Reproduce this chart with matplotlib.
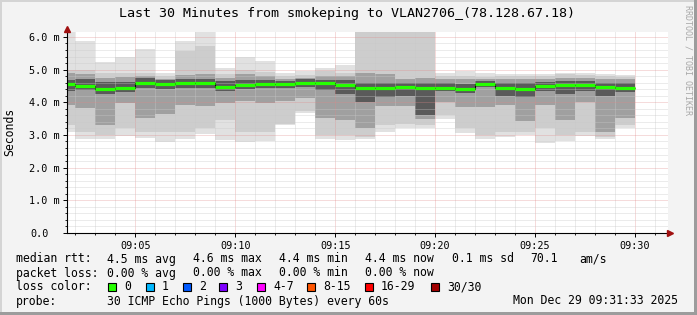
import numpy as np
import matplotlib
matplotlib.use('Agg')
import matplotlib.pyplot as plt
import matplotlib.transforms as mtrans
from matplotlib.patches import Rectangle
from matplotlib.ticker import MultipleLocator

# minute (after 09:00) at which each 60s step ends
minutes = [2, 3, 4, 5, 6, 7, 8, 9, 10, 11, 12, 13, 14, 15, 16, 17, 18, 19, 20,
           21, 22, 23, 24, 25, 26, 27, 28, 29, 30]

# rtt in ms (outer -> inner)
rtt_max = [6.3, 5.88, 5.23, 5.37, 5.62, 4.91, 5.88, 6.3, 5.04, 5.40, 5.26, 4.91, 4.95, 5.04, 5.15,
           6.3, 6.3, 6.3, 6.3, 4.91, 4.96, 4.90, 4.87, 4.85, 4.85, 4.90, 4.90, 4.87, 4.83]
q90 = [5.0, 5.0, 4.9, 4.9, 4.9, 4.8, 5.57, 5.72, 4.85, 5.0, 4.92, 4.8, 4.82, 4.95, 4.9,
       6.3, 6.3, 6.3, 6.3, 4.8, 4.8, 4.78, 4.8, 4.8, 4.8, 4.85, 4.82, 4.8, 4.78]
q75 = [4.9, 4.85, 4.75, 4.78, 4.8, 4.72, 4.82, 4.85, 4.75, 4.85, 4.8, 4.72, 4.75, 4.8, 4.8,
       4.9, 4.85, 4.7, 4.75, 4.72, 4.7, 4.7, 4.72, 4.72, 4.72, 4.75, 4.75, 4.72, 4.7]
q60 = [4.67, 4.72, 4.62, 4.62, 4.74, 4.68, 4.7, 4.72, 4.66, 4.68, 4.68, 4.66, 4.7, 4.68, 4.68,
       4.6, 4.6, 4.6, 4.58, 4.58, 4.56, 4.66, 4.6, 4.6, 4.62, 4.66, 4.64, 4.58, 4.6]
median = [4.55, 4.50, 4.41, 4.44, 4.60, 4.57, 4.58, 4.58, 4.48, 4.52, 4.57, 4.57, 4.60, 4.58, 4.54,
          4.43, 4.44, 4.47, 4.43, 4.44, 4.40, 4.57, 4.44, 4.40, 4.50, 4.54, 4.52, 4.46, 4.44]
q40 = [4.34, 4.38, 4.25, 4.30, 4.45, 4.4, 4.44, 4.44, 4.36, 4.4, 4.44, 4.44, 4.46, 4.38, 4.25,
       4.0, 4.15, 4.2, 3.62, 4.33, 4.28, 4.47, 4.2, 4.15, 4.35, 4.25, 4.35, 4.2, 4.3]
q25 = [3.93, 3.83, 3.3, 3.97, 3.52, 3.65, 3.93, 3.9, 3.98, 4.03, 3.98, 4.03, 4.13, 3.52, 3.47,
       3.2, 3.9, 3.9, 3.5, 4.0, 3.85, 3.85, 3.93, 3.43, 3.93, 3.45, 4.0, 3.1, 3.52]
q10 = [3.3, 3.1, 3.0, 3.2, 3.1, 3.1, 3.1, 3.2, 3.47, 3.1, 3.1, 3.32, 3.73, 3.0, 3.0,
       2.95, 3.3, 3.35, 3.3, 3.6, 3.2, 3.0, 3.1, 3.1, 3.2, 3.0, 3.1, 2.95, 3.3]
rtt_min = [3.10, 2.87, 2.87, 2.98, 2.92, 2.78, 2.88, 3.02, 2.85, 2.78, 2.80, 3.30, 3.68, 2.88, 2.85,
           2.87, 3.10, 3.20, 3.20, 3.50, 3.05, 2.87, 2.95, 3.0, 2.75, 2.80, 2.97, 2.87, 3.20]

time_labels = ['09:05', '09:10', '09:15', '09:20', '09:25', '09:30']
y_labels = ['0.0', '1.0 m', '2.0 m', '3.0 m', '4.0 m', '5.0 m', '6.0 m']

loss_labels = ['0', '1', '2', '3', '4-7', '8-15', '16-29', '30/30']
loss_colors = ['#26ff00', '#00b8ff', '#0059ff', '#7e00ff', '#ff00ff', '#ff5500', '#ff0000', '#a10000']

W, H = 697, 315
MONO = 'DejaVu Sans Mono'
plt.rcParams['font.family'] = MONO

fig = plt.figure(figsize=(W / 100, H / 100), dpi=100, facecolor='#f3f3f3')
ax = fig.add_axes([67 / W, 1 - 233 / H, (668 - 67) / W, (233 - 32) / H])
ax.set_facecolor('white')

ends = np.array(minutes, dtype=float)
starts = ends - 1

# smoke, lightest outside -> darkest inside
bands = [(rtt_min, rtt_max, '#e1e1e1'),
         (q10, q90, '#cdcdcd'),
         (q25, q75, '#a0a0a0'),
         (q40, q60, '#5a5a5a')]
for lo, hi, col in bands:
    lo = np.array(lo)
    hi = np.array(hi)
    ax.bar(starts, hi - lo, bottom=lo, width=1, align='edge', color=col, lw=0, zorder=1)

edges = np.append(starts, ends[-1])
ax.stairs(median, edges, baseline=None, color='black', lw=0.8, zorder=3)
ax.hlines(median, starts, ends, colors=loss_colors[0], lw=2.3, zorder=4)

ax.set_xlim(1.58, 31.65)
ax.set_ylim(0, 6.15)

ax.xaxis.set_major_locator(MultipleLocator(5))
ax.xaxis.set_minor_locator(MultipleLocator(1))
ax.set_xticks([5, 10, 15, 20, 25, 30])
ax.set_xticklabels(time_labels)
ax.set_yticks(range(7))
ax.set_yticklabels(y_labels)
ax.yaxis.set_minor_locator(MultipleLocator(0.2))

ax.set_axisbelow(False)
ax.grid(which='minor', color='#c8c8c8', alpha=0.7, lw=0.72, ls=(0, (1, 1)))
ax.grid(which='major', color='#e08888', alpha=0.6, lw=0.72, ls=(0, (1, 1)))
ax.tick_params(which='major', length=3, width=0.7, labelsize=7.3, pad=2.5, colors='black')
ax.tick_params(which='minor', length=1.5, width=0.6)

for s in ['top', 'right']:
    ax.spines[s].set_visible(False)
for s in ['left', 'bottom']:
    ax.spines[s].set_linewidth(0.8)
    ax.spines[s].set_zorder(5)

# shift the bare "0.0" label left like rrdtool does
lab0 = ax.get_yticklabels()[0]
lab0.set_transform(lab0.get_transform() + mtrans.ScaledTranslation(-0.11, 0, fig.dpi_scale_trans))

# axis arrows
ax.plot([0], [1.016], marker='^', ms=4.5, color='#a01010', transform=ax.transAxes, clip_on=False, zorder=6)
ax.plot([1.004], [0], marker='>', ms=4.5, color='#a01010', transform=ax.transAxes, clip_on=False, zorder=6)


def ftext(x, y, s, **kw):
    kw.setdefault('fontsize', 8.3)
    kw.setdefault('va', 'center')
    fig.text(x / W, 1 - y / H, s, family=MONO, **kw)


ftext(347, 14, 'Last 30 Minutes from smokeping to VLAN2706_(78.128.67.18)', fontsize=9.6, ha='center')
ftext(10, 132, 'Seconds', rotation=90, ha='center')
ftext(688, 60, 'RRDTOOL / TOBI OETIKER', fontsize=6, rotation=270, ha='center', color='#a8a8a8')

ftext(16, 259, 'median rtt:')
for x, s in [(107, '4.5 ms avg'), (193, '4.6 ms max'), (279, '4.4 ms min'), (365, '4.4 ms now'),
             (452, '0.1 ms sd'), (530, '70.1'), (579, 'am/s')]:
    ftext(x, 259, s)

ftext(16, 273, 'packet loss:')
for x, s in [(107, '0.00 % avg'), (193, '0.00 % max'), (279, '0.00 % min'), (365, '0.00 % now')]:
    ftext(x, 273, s)

ftext(16, 287, 'loss color:')
box_x = [108, 146, 183, 219, 257, 307, 365, 431]
for bx, lab, col in zip(box_x, loss_labels, loss_colors):
    fig.add_artist(Rectangle((bx / W, 1 - 291 / H), 8 / W, 8 / H, facecolor=col, edgecolor='black',
                             lw=0.8, transform=fig.transFigure))
    ftext(bx + 16, 287, lab)

ftext(16, 301, 'probe:')
ftext(107, 301, '30 ICMP Echo Pings (1000 Bytes) every 60s')
ftext(513, 301, 'Mon Dec 29 09:31:33 2025')

# 3d frame of the rrdtool canvas
fig.add_artist(Rectangle((0, 0), 2 / W, 1, color='#d4d4d4', transform=fig.transFigure, lw=0))
fig.add_artist(Rectangle((0, 1 - 2 / H), 1, 2 / H, color='#d4d4d4', transform=fig.transFigure, lw=0))
fig.add_artist(Rectangle((1 - 3 / W, 0), 3 / W, 1, color='#9c9c9c', transform=fig.transFigure, lw=0))
fig.add_artist(Rectangle((0, 0), 1, 3 / H, color='#9c9c9c', transform=fig.transFigure, lw=0))

fig.savefig('out.png', dpi=100, facecolor=fig.get_facecolor())
